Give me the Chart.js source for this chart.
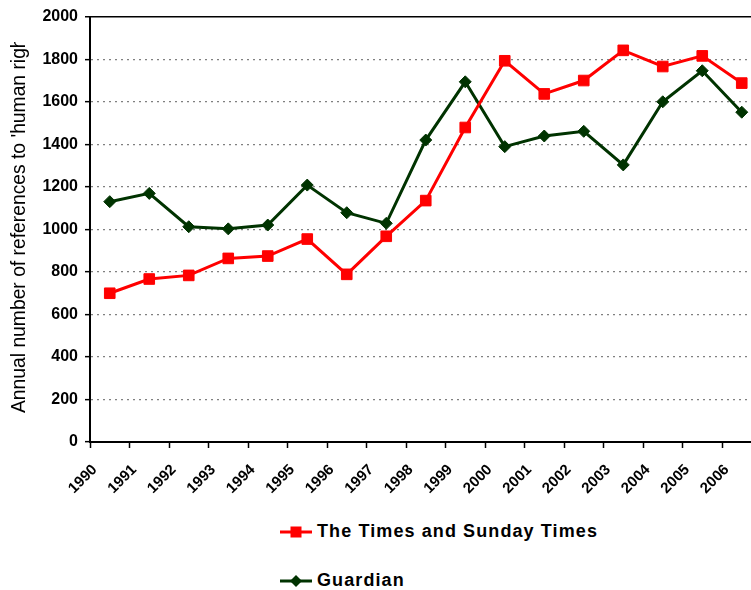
<!DOCTYPE html>
<html>
<head>
<meta charset="utf-8">
<script src="https://cdn.jsdelivr.net/npm/chart.js@4"></script>
<style>
    html, body { margin: 0; padding: 0; background: #fff; overflow: hidden; }
    #wrap { position: relative; width: 770px; height: 500px; }
    #legend { position: absolute; left: 280px; top: 0; font-family: "Liberation Sans", Arial, sans-serif; }
    .item { position: absolute; left: 0; display: flex; align-items: center; white-space: nowrap;
            font-weight: bold; font-size: 18px; letter-spacing: 1.1px; color: #000; }
    .item svg { margin-right: 5px; }
</style>
</head>
<body>
<div id="wrap"><canvas id="chart"></canvas></div>
<div id="legend"></div>
<script>
const years = ["1990", "1991", "1992", "1993", "1994", "1995", "1996", "1997", "1998",
               "1999", "2000", "2001", "2002", "2003", "2004", "2005", "2006"];
const timesValues = [700, 767, 784, 864, 875, 955, 789, 968, 1136, 1480, 1794, 1638, 1701, 1843, 1767, 1817, 1689];
const guardianValues = [1131, 1170, 1013, 1003, 1021, 1209, 1079, 1029, 1421, 1695, 1390, 1440, 1462, 1304, 1601, 1747, 1552];
const yMin = 0, yMax = 2000, yStep = 200;
const yTitle = "Annual number of references to 'human rights'";

const font = "'Liberation Sans', Arial, sans-serif";

// y title is clipped at the top like in the original
const yTitlePlugin = {
    id: "yTitle",
    afterDraw(chart) {
        const ctx = chart.ctx;
        ctx.save();
        ctx.beginPath();
        ctx.rect(0, 42, 40, 400);
        ctx.clip();
        ctx.translate(25, 413);
        ctx.rotate(-Math.PI / 2);
        ctx.font = "19.3px " + font;
        ctx.fillStyle = "#000";
        ctx.textAlign = "left";
        ctx.textBaseline = "alphabetic";
        ctx.fillText(yTitle, 0, 0);
        ctx.restore();
    }
};

const chart = new Chart(document.getElementById("chart"), {
    type: "line",
    data: {
        labels: years,
        datasets: [
            {
                label: "The Times and Sunday Times",
                data: timesValues,
                borderColor: "#ff0000",
                backgroundColor: "#ff0000",
                borderWidth: 3,
                pointStyle: "rect",
                pointRadius: 7.5,
                pointBorderWidth: 1,
                tension: 0
            },
            {
                label: "Guardian",
                data: guardianValues,
                borderColor: "#003300",
                backgroundColor: "#003300",
                borderWidth: 3,
                pointStyle: "rectRot",
                pointRadius: 6,
                pointBorderWidth: 1,
                tension: 0
            }
        ]
    },
    options: {
        responsive: true,
        maintainAspectRatio: false,
        animation: false,
        layout: { padding: { left: 0, right: 7, top: 17, bottom: 0 } },
        plugins: {
            legend: { display: false },
            tooltip: { enabled: false }
        },
        scales: {
            x: {
                offset: true,
                grid: {
                    offset: true,
                    drawOnChartArea: false,
                    drawTicks: true,
                    tickLength: 6,
                    tickColor: "#000",
                    tickWidth: 1.5
                },
                border: { display: true, color: "#000", width: 2 },
                ticks: {
                    color: "#000",
                    font: { family: font, size: 15, weight: "bold" },
                    maxRotation: 45,
                    minRotation: 45,
                    autoSkip: false,
                    labelOffset: -15,
                    padding: 13
                },
                afterFit(scale) { scale.height = 58; }
            },
            y: {
                min: yMin,
                max: yMax,
                grid: {
                    color: ctx => ctx.tick && ctx.tick.value === yMax ? "#000" : "#808080",
                    lineWidth: ctx => ctx.tick && ctx.tick.value === yMax ? 1.5 : 1.3,
                    drawTicks: true,
                    tickLength: 5,
                    tickColor: "#000",
                    tickWidth: 1.5
                },
                border: {
                    display: true, color: "#000", width: 2,
                    dash: ctx => ctx.tick && ctx.tick.value === yMax ? [] : [2, 4]
                },
                ticks: {
                    stepSize: yStep,
                    color: "#000",
                    padding: 7,
                    font: { family: font, size: 16, weight: "bold" },
                    callback: v => String(v)
                },
                afterFit(scale) { scale.width = 90; }
            }
        }
    },
    plugins: [yTitlePlugin]
});

// legend stacked vertically under the chart
const legend = document.getElementById("legend");
const rowY = [532, 581];
chart.data.datasets.forEach((ds, i) => {
    const c = ds.borderColor;
    const marker = ds.pointStyle === "rect"
        ? `<rect x="10.5" y="0.5" width="11" height="11" fill="${c}"/>`
        : `<polygon points="16,0 22,6 16,12 10,6" fill="${c}"/>`;
    const div = document.createElement("div");
    div.className = "item";
    div.style.top = (rowY[i] - 11) + "px";
    div.innerHTML = `<svg width="32" height="12"><line x1="0" y1="6" x2="32" y2="6" stroke="${c}" stroke-width="3"/>${marker}</svg><span>${ds.label}</span>`;
    legend.appendChild(div);
});
</script>
</body>
</html>
